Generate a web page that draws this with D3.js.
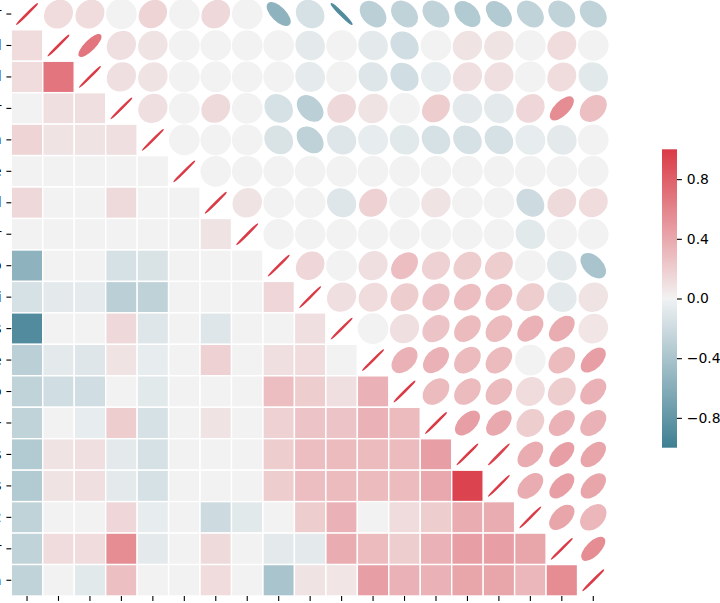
<!DOCTYPE html>
<html><head><meta charset="utf-8">
<script src="https://cdn.jsdelivr.net/npm/d3@7"></script>
<style>html,body{margin:0;padding:0;background:#fff;overflow:hidden}</style>
</head><body><svg id="c" width="720" height="603"></svg>
<script>
const labels = ["year","col","sal","cr","gen","age","bld","hr","tempo","mi","days","type","prio","cl-","hrs","mins","cr2","fr","area"];
const lower = [
  [],
  [0.12],
  [0.12, 0.68],
  [0.0, 0.1, 0.1],
  [0.16, 0.08, 0.08, 0.1],
  [0.0, 0.0, 0.0, 0.0, 0.0],
  [0.14, 0.0, 0.0, 0.13, 0.0, 0.0],
  [0.0, 0.0, 0.0, 0.0, 0.0, 0.0, 0.08],
  [-0.55, 0.0, 0.0, -0.15, -0.13, 0.0, 0.0, 0.0],
  [-0.15, -0.07, -0.06, -0.3, -0.28, 0.0, 0.0, 0.0, 0.15],
  [-0.9, 0.0, 0.0, 0.14, -0.1, 0.0, -0.1, 0.0, 0.0, 0.1],
  [-0.3, -0.07, -0.1, 0.08, -0.05, 0.0, 0.18, 0.0, 0.1, 0.12, 0.0],
  [-0.27, -0.18, -0.18, 0.0, -0.08, 0.0, 0.0, 0.0, 0.28, 0.2, 0.1, 0.35],
  [-0.27, 0.0, -0.05, 0.2, -0.15, 0.0, 0.08, 0.0, 0.18, 0.25, 0.25, 0.35, 0.3],
  [-0.35, 0.08, 0.1, -0.07, -0.15, 0.0, 0.0, 0.0, 0.2, 0.28, 0.3, 0.3, 0.3, 0.45],
  [-0.35, 0.08, 0.1, -0.07, -0.15, 0.0, 0.0, 0.0, 0.2, 0.28, 0.3, 0.3, 0.3, 0.4, 0.95],
  [-0.27, 0.0, 0.0, 0.15, -0.05, 0.0, -0.2, -0.08, 0.0, 0.2, 0.35, 0.0, 0.12, 0.2, 0.38, 0.38],
  [-0.27, 0.12, 0.12, 0.55, -0.07, 0.0, 0.13, 0.0, -0.07, -0.07, 0.38, 0.3, 0.2, 0.35, 0.45, 0.45, 0.42],
  [-0.27, 0.0, -0.08, 0.27, 0.0, 0.0, 0.12, 0.0, -0.4, 0.08, 0.07, 0.45, 0.35, 0.35, 0.42, 0.42, 0.32, 0.55]
];
const cbTicks = [-0.8, -0.4, 0.0, 0.4, 0.8];

// ---- seaborn husl port ----
const M = [[3.2406,-1.5372,-0.4986],[-0.9689,1.8758,0.0415],[0.0557,-0.2040,1.0570]];
const refU = 0.19784, refV = 0.46834, kappa = 24389/27, eps = 216/24389;
function maxChroma(L, H) {
  const h = H*Math.PI/180, s = Math.sin(h), c = Math.cos(h);
  const sub1 = Math.pow(L+16,3)/1560896;
  const sub2 = sub1 > 0.008856 ? sub1 : L/903.3;
  let res = Infinity;
  for (const [m1,m2,m3] of M) {
    const top = (0.99915*m1 + 1.05122*m2 + 1.14460*m3)*sub2;
    const rb = 0.86330*m3 - 0.17266*m2, lb = 0.12949*m3 - 0.38848*m1;
    const bottom = (rb*s + lb*c)*sub2;
    for (const t of [0,1]) {
      const C = L*(top - 1.05122*t)/(bottom + 0.17266*s*t);
      if (C > 0 && C < res) res = C;
    }
  }
  return res;
}
function husl(H, S, L) {
  const C = maxChroma(L, H)/100*S;
  const h = H*Math.PI/180;
  const U = Math.cos(h)*C, V = Math.sin(h)*C;
  const t = (L+16)/116;
  const Y = Math.pow(t,3) > eps ? Math.pow(t,3) : (116*t-16)/kappa;
  const vu = U/(13*L)+refU, vv = V/(13*L)+refV;
  const X = -(9*Y*vu)/((vu-4)*vv - vu*vv);
  const Z = (9*Y - 15*vv*Y - vv*X)/(3*vv);
  return M.map(r => {
    let c = r[0]*X + r[1]*Y + r[2]*Z;
    c = c <= 0.0031308 ? 12.92*c : 1.055*Math.pow(c,1/2.4) - 0.055;
    return Math.max(0, Math.min(1, c))*255;
  });
}
const toRgb = a => d3.rgb(a[0], a[1], a[2]);
const stops = [
  [0, toRgb(husl(220,75,50))],
  [127/256, toRgb(husl(220,11.25,95))],
  [0.5, d3.rgb(242.25,242.25,242.25)],
  [129/256, toRgb(husl(10,11.25,95))],
  [1, toRgb(husl(10,75,50))]
];
const cmap = d3.scaleLinear().domain(stops.map(s => s[0])).range(stops.map(s => s[1])).interpolate(d3.interpolateRgb).clamp(true);
const norm = d3.scaleLinear().domain([-1, 1]).range([0, 1]).clamp(true);
const color = v => cmap(norm(v));

// full symmetric matrix
const n = labels.length;
const corr = d3.range(n).map(i => d3.range(n).map(j => i === j ? 1 : (i > j ? lower[i][j] : lower[j][i])));

const svg = d3.select("#c");
const gx0 = 11.3, gy0 = -1.7, gsize = 597.7;
const x = d3.scaleBand().domain(d3.range(n)).range([gx0, gx0 + gsize]);
const y = d3.scaleBand().domain(d3.range(n)).range([gy0, gy0 + gsize]);
const bw = x.bandwidth();

const cells = [];
for (let i = 0; i < n; i++) for (let j = 0; j < n; j++) cells.push({i, j, v: corr[i][j]});

// lower-triangle heatmap
svg.append("g").selectAll("rect").data(cells.filter(d => d.i > d.j)).join("rect")
  .attr("x", d => x(d.j)).attr("y", d => y(d.i))
  .attr("width", bw).attr("height", bw)
  .attr("fill", d => color(d.v))
  .attr("stroke", "#fff").attr("stroke-width", 1.4);

// upper-triangle ellipses (incl. diagonal)
const scale = 0.93;
svg.append("g").selectAll("ellipse").data(cells.filter(d => d.i <= d.j)).join("ellipse")
  .attr("transform", d => `translate(${x(d.j) + bw/2},${y(d.i) + bw/2}) rotate(${d.v >= 0 ? -45 : 45})`)
  .attr("rx", bw*scale/2)
  .attr("ry", d => Math.max(0.6, bw*scale*(1 - Math.abs(d.v))/2))
  .attr("fill", d => color(d.v))
  .attr("stroke", d => color(d.v)).attr("stroke-width", 1.4);

// axes
const fam = "'DejaVu Sans', sans-serif";
const yAxis = d3.axisLeft(y).tickFormat(i => labels[i]).tickSize(4.9).tickPadding(4.9);
const yg = svg.append("g").attr("transform", `translate(${gx0},0)`).call(yAxis);
yg.select(".domain").remove();
yg.selectAll("text").attr("font-family", fam).attr("font-size", 13.9).attr("fill", "#000");
const xAxis = d3.axisBottom(x).tickFormat(i => labels[i]).tickSize(4.9).tickPadding(4.9);
const xg = svg.append("g").attr("transform", `translate(0,${gy0 + gsize})`).call(xAxis);
xg.select(".domain").remove();
xg.selectAll("text").attr("font-family", fam).attr("font-size", 13.9).attr("fill", "#000")
  .attr("transform", "rotate(-90)").attr("text-anchor", "end").attr("dx", "-0.5em").attr("dy", "-0.3em");
svg.selectAll(".tick line").attr("stroke", "#000").attr("stroke-width", 1.1);

// colorbar
const cbx = 662, cbw = 15, cbTop = 149.3, cbBot = 447.7;
const cy = d3.scaleLinear().domain([-1, 1]).range([cbBot, cbTop]);
const defs = svg.append("defs");
const grad = defs.append("linearGradient").attr("id", "cbg").attr("x1", 0).attr("y1", 1).attr("x2", 0).attr("y2", 0);
const offs = d3.range(0, 1.0001, 1/64).concat([127/256, 129/256]).sort((a, b) => a - b);
offs.forEach(t => grad.append("stop").attr("offset", t).attr("stop-color", cmap(t)));
svg.append("rect").attr("x", cbx).attr("y", cbTop).attr("width", cbw).attr("height", cbBot - cbTop).attr("fill", "url(#cbg)");
const cAxis = d3.axisRight(cy).tickValues(cbTicks).tickSize(4.9).tickPadding(4.9)
  .tickFormat(v => d3.format(".1f")(v).replace("-", "\u2212"));
const cg = svg.append("g").attr("transform", `translate(${cbx + cbw},0)`).call(cAxis);
cg.select(".domain").remove();
cg.selectAll("text").attr("font-family", fam).attr("font-size", 13.9).attr("fill", "#000");
cg.selectAll("line").attr("stroke", "#000").attr("stroke-width", 1.1);
</script></body></html>
